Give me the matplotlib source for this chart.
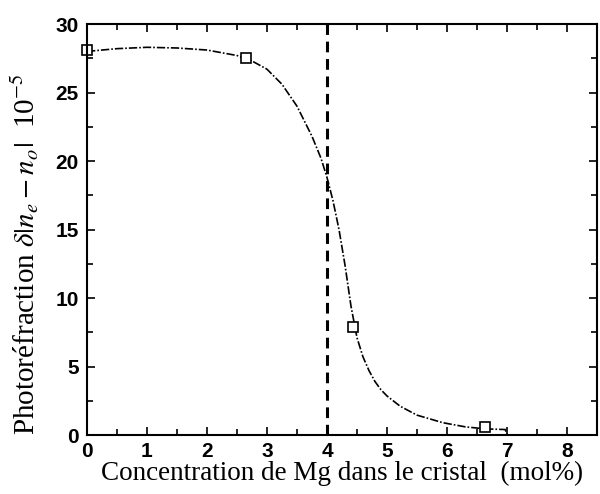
import matplotlib.pyplot as plt
from matplotlib.ticker import MultipleLocator

# measured points
x_pts = [0.0, 2.65, 4.43, 6.63]
y_pts = [28.1, 27.5, 7.9, 0.6]

# fitted curve
x_fit = [0.0, 0.5, 1.0, 1.5, 2.0, 2.5, 2.75, 3.0, 3.25, 3.5, 3.75, 3.9, 4.0, 4.1, 4.2,
         4.3, 4.4, 4.5, 4.6, 4.7, 4.8, 4.9, 5.0, 5.22, 5.5, 5.93, 6.3, 6.63, 6.97, 7.0]
y_fit = [28.0, 28.2, 28.3, 28.25, 28.1, 27.7, 27.3, 26.7, 25.6, 24.0, 21.8, 20.2, 18.8, 17.1, 15.0,
         12.4, 9.4, 7.1, 5.7, 4.7, 3.9, 3.3, 2.85, 2.1, 1.45, 0.9, 0.6, 0.45, 0.4, 0.0]

x_limit = [4.0, 4.0]
y_limit = [0, 30]

plt.rcParams['font.family'] = ['Liberation Serif', 'DejaVu Serif']
plt.rcParams['mathtext.fontset'] = 'stix'

fig = plt.figure(figsize=(6, 4.94), dpi=100)
ax = fig.add_axes([0.145, 0.1194, 0.85, 0.832])

ax.plot(x_fit, y_fit, color='black', lw=1.2, ls=(0, (5, 1.2, 1, 1.2)))
ax.plot(x_limit, y_limit, color='black', lw=2.2, ls=(0, (3.5, 2.2)))
ax.plot(x_pts, y_pts, 's', mfc='white', mec='black', mew=1.2, ms=7, clip_on=False)

ax.set_xlim(0, 8.5)
ax.set_ylim(0, 30)
ax.xaxis.set_major_locator(MultipleLocator(1))
ax.xaxis.set_minor_locator(MultipleLocator(0.5))
ax.yaxis.set_major_locator(MultipleLocator(5))
ax.yaxis.set_minor_locator(MultipleLocator(2.5))
ax.tick_params(which='both', direction='in', top=True, right=True, width=1.2)
ax.tick_params(which='major', length=6)
ax.tick_params(which='minor', length=4)
ax.tick_params(axis='x', pad=5)
ax.tick_params(axis='y', pad=6)
for lab in ax.get_xticklabels() + ax.get_yticklabels():
    lab.set_family('Liberation Sans')
    lab.set_fontweight('bold')
    lab.set_fontsize(15)
for sp in ax.spines.values():
    sp.set_linewidth(1.5)

ax.set_xlabel('Concentration de Mg dans le cristal  (mol%)', fontsize=19.5, labelpad=0)
ax.set_ylabel(r'Photoréfraction $\delta|n_e - n_o|$  10$^{-5}$', fontsize=21)
ax.yaxis.set_label_coords(-0.09, 0.44)

fig.savefig('out.png', dpi=100)
